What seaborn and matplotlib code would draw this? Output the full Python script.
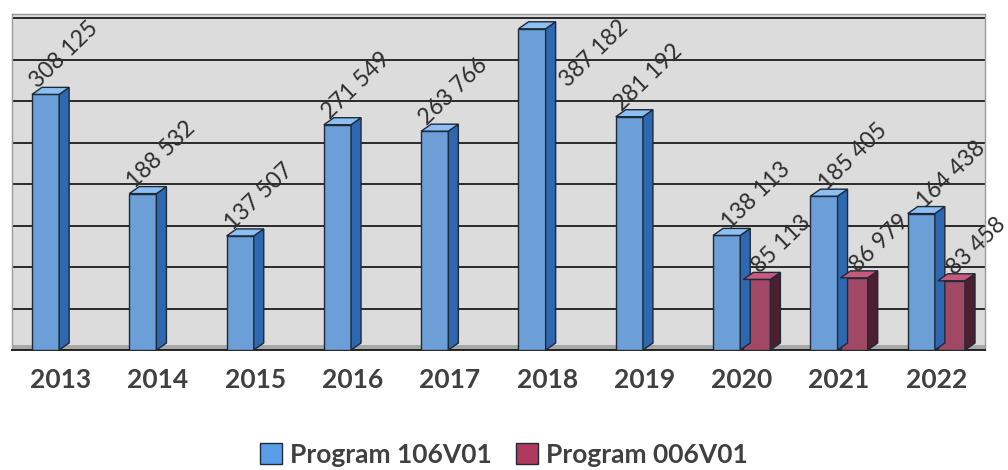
import numpy as np
import pandas as pd
import matplotlib
matplotlib.use("Agg")
import matplotlib.pyplot as plt
from matplotlib.patches import Polygon, Patch, Rectangle
from matplotlib.transforms import IdentityTransform
import seaborn as sns

years = ["2013", "2014", "2015", "2016", "2017", "2018", "2019", "2020", "2021", "2022"]
prog_106 = [308125, 188532, 137507, 271549, 263766, 387182, 281192, 138113, 185405, 164438]
years_006 = ["2020", "2021", "2022"]
prog_006 = [85113, 86979, 83458]
series_names = ["Program 106V01", "Program 006V01"]

df = pd.concat([
    pd.DataFrame({"year": years, "value": prog_106, "program": series_names[0]}),
    pd.DataFrame({"year": years_006, "value": prog_006, "program": series_names[1]}),
], ignore_index=True)

sns.set_theme(style="white")
plt.rcParams["font.family"] = ["Lato", "DejaVu Sans"]

front = {series_names[0]: "#5A9EEA", series_names[1]: "#B03A5E"}
side = {series_names[0]: "#2E68B0", series_names[1]: "#4D1F2E"}
top = {series_names[0]: "#8CC0F5", series_names[1]: "#C9587C"}

fig = plt.figure(figsize=(10.08, 4.70), dpi=100)
ax = fig.add_axes([12 / 1008, 1 - 350 / 470, (985 - 12) / 1008, (350 - 14) / 470])
ax.set_facecolor("#DCDCDC")

sns.barplot(data=df, x="year", y="value", hue="program", order=years,
            hue_order=series_names, palette=front, width=0.62, gap=0.1,
            edgecolor="#1E2A38", linewidth=1.0, legend=False, ax=ax, zorder=3)

ax.set_ylim(0, 405000)
ax.set_xlim(-0.5, len(years) - 0.5)
ax.set_yticks(np.arange(50000, 400001, 50000))
ax.set_yticklabels([])
ax.grid(axis="y", color="#2A2A2A", linewidth=1.4, zorder=1)
ax.set_axisbelow(True)
ax.set_xlabel("")
ax.set_ylabel("")
ax.tick_params(axis="y", length=0)
ax.set_xticks(np.arange(-0.5, len(years), 1.0), minor=True)
ax.tick_params(axis="x", which="minor", length=7, width=1.2, color="#222222", direction="out")
ax.tick_params(axis="x", which="major", length=0, pad=13)
for lab in ax.get_xticklabels():
    lab.set_fontsize(19)
    lab.set_fontweight("bold")
    lab.set_color("#404040")
for s in ["top", "right", "left"]:
    ax.spines[s].set_color("#9A9A9A")
    ax.spines[s].set_linewidth(1.0)
ax.spines["bottom"].set_color("#222222")
ax.spines["bottom"].set_linewidth(1.4)

fig.canvas.draw()
ax_bb = ax.get_window_extent()

bars = [p for p in ax.patches if isinstance(p, Rectangle)
        and np.isfinite(p.get_height()) and p.get_height() > 0]

# floor strip of the pseudo-3D plot area
ax.add_artist(Polygon([[ax_bb.x0, ax_bb.y0], [ax_bb.x1, ax_bb.y0], [ax_bb.x1, ax_bb.y0 + 5],
                       [ax_bb.x0, ax_bb.y0 + 5]], closed=True, transform=IdentityTransform(),
                      facecolor="#A8A8A8", edgecolor="none", zorder=2))

dx, dy = 10, 7  # pseudo-3D depth in pixels
labels = []
for p in bars:
    bb = p.get_window_extent()
    fc = p.get_facecolor()
    name = series_names[0] if fc[2] > 0.6 else series_names[1]
    x0, x1, y0, y1 = bb.x0, bb.x1, bb.y0, bb.y1
    sideface = Polygon([[x1, y0], [x1 + dx, y0 + dy], [x1 + dx, y1 + dy], [x1, y1]],
                       closed=True, transform=IdentityTransform(), facecolor=side[name],
                       edgecolor="#1E2A38", linewidth=1.0, zorder=p.get_zorder())
    topface = Polygon([[x0, y1], [x1, y1], [x1 + dx, y1 + dy], [x0 + dx, y1 + dy]],
                      closed=True, transform=IdentityTransform(), facecolor=top[name],
                      edgecolor="#1E2A38", linewidth=1.0, zorder=p.get_zorder())
    ax.add_artist(sideface)
    ax.add_artist(topface)
    labels.append((p, name, bb))

# data labels
for p, name, bb in labels:
    center = p.get_x() + p.get_width() / 2
    paired = sum(1 for q, _, _ in labels if round(q.get_x() + q.get_width() / 2) == round(center)) > 1
    val = p.get_height()
    txt = f"{int(round(val)):,}".replace(",", " ")
    off = 17 if paired else 6
    ax_x, ax_y = bb.x0 + off, bb.y1 + 5
    t = fig.text(ax_x, ax_y, txt, transform=IdentityTransform(), rotation=44,
                 rotation_mode="anchor", ha="left", va="baseline", fontsize=16.5,
                 color="#2E2E2E", zorder=10)
    fig.canvas.draw()
    tb = t.get_window_extent()
    if tb.y1 > ax_bb.y1 + 12:
        over = tb.y1 - ax_bb.y1 + 2
        t.set_position((bb.x1 + dx + 12, ax_y - over))

handles = [Patch(facecolor=front[n], edgecolor="#1E2A38", linewidth=1.0, label=n) for n in series_names]
fig.legend(handles=handles, loc="center", bbox_to_anchor=(0.5, 1 - 455 / 470), ncol=2,
           frameon=False, prop={"family": ["Lato", "DejaVu Sans"], "weight": "bold", "size": 19},
           handlelength=0.85, handleheight=0.85, handletextpad=0.3, columnspacing=0.9,
           labelcolor="#404040")

fig.savefig("out.png", dpi=100, facecolor="white")
